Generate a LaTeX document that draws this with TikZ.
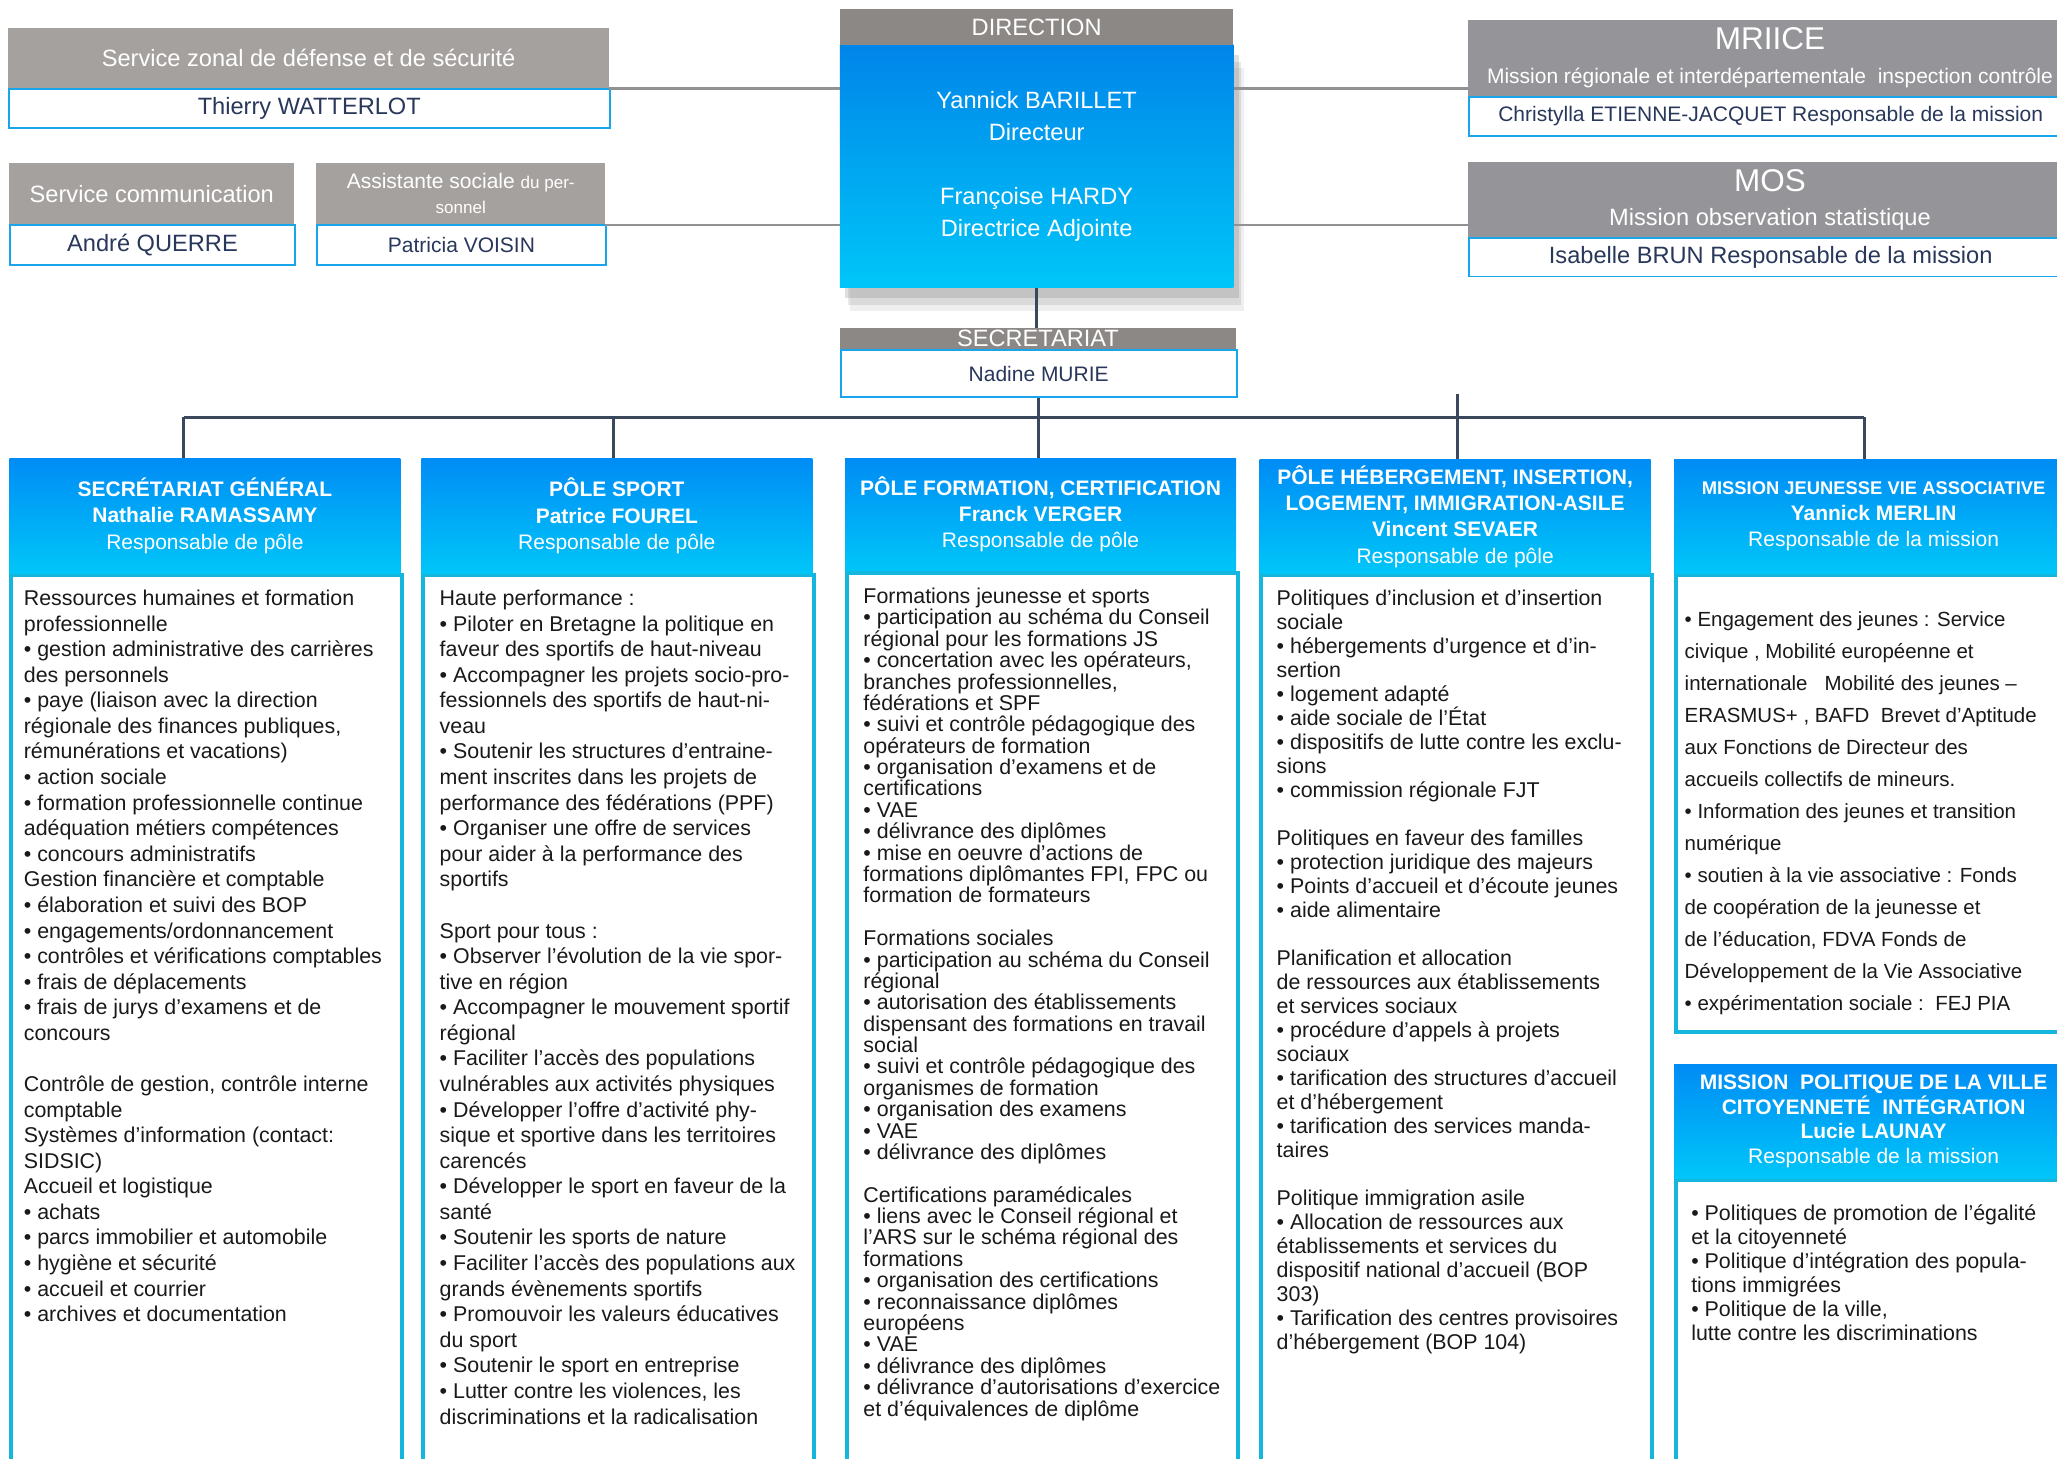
\documentclass[tikz,border=0pt]{standalone}
\usepackage{fontspec}
\setmainfont{Liberation Sans}
\usetikzlibrary{shadows}
\definecolor{headgrey}{RGB}{165,161,159}
\definecolor{dirgrey}{RGB}{140,136,134}
\definecolor{missgrey}{RGB}{149,149,153}
\definecolor{boxblue}{RGB}{25,165,235}
\definecolor{namenavy}{RGB}{40,55,90}
\definecolor{poletop}{RGB}{0,140,245}
\definecolor{polebottom}{RGB}{0,198,248}
\definecolor{polecyan}{RGB}{20,182,222}
\definecolor{linegrey}{RGB}{145,145,145}
\definecolor{busslate}{RGB}{58,72,92}
\tikzset{
  greyhead/.style={
    rectangle,
    fill=headgrey,
    text=white,
    inner sep=0pt,
    anchor=north west,
    align=center,
    font=\fontsize{18}{22}\selectfont},
  namebox/.style={
    rectangle,
    fill=white,
    draw=boxblue, line width=1.5pt,
    text=namenavy,
    inner sep=0pt,
    anchor=north west,
    font=\fontsize{18}{22}\selectfont},
  dirbody/.style={
    rectangle,
    top color=poletop!95!black,
    bottom color=polebottom,
    text=white,
    inner sep=0pt,
    anchor=north west,
    align=center,
    font=\fontsize{18}{24.5}\selectfont,
    drop shadow={shadow xshift=8pt, shadow yshift=-18pt, opacity=0.12},
    drop shadow={shadow xshift=6pt, shadow yshift=-13pt, opacity=0.18},
    drop shadow={shadow xshift=4pt, shadow yshift=-8pt, opacity=0.25}},
  polehead/.style={
    rectangle,
    top color=poletop,
    bottom color=polebottom,
    text=white,
    inner sep=0pt,
    anchor=north west,
    align=center,
    minimum width=298pt,
    font=\fontsize{16}{20}\selectfont},
  polebody/.style={
    rectangle,
    fill=white,
    draw=polecyan, line width=3pt,
    anchor=north west,
    minimum width=298pt},
  poletext/.style={
    anchor=north west,
    align=left,
    inner sep=0pt,
    text=black!90,
    font=\fontsize{16.3}{#1}\selectfont},
  poletext/.default=19.5,
  greyline/.style={draw=linegrey, line width=2pt},
  busline/.style={draw=busslate, line width=2.3pt},
}

\begin{document}
\begin{tikzpicture}[x=1pt, y=-1pt]
\path[use as bounding box, fill=white] (0,0) rectangle (1568,1112);

% direction et secretariat
\node[dirbody, minimum width=300pt, minimum height=185pt] (dirB) at (640,34)
  {Yannick BARILLET\\Directeur\\[24.5pt]Françoise HARDY\\Directrice Adjointe};
\node[greyhead, fill=dirgrey, minimum width=300pt, minimum height=27pt] (dirG) at (640,7) {DIRECTION};
\node[greyhead, fill=dirgrey, minimum width=302pt, minimum height=16pt] (secG) at (640,250) {SECRETARIAT};
\node[namebox, minimum width=302pt, minimum height=36pt, font=\fontsize{16}{19}\selectfont] (secN) at (640,266) {Nadine MURIE};

% services a gauche
\node[greyhead, minimum width=458pt, minimum height=46pt] (szG) at (6,21) {Service zonal de défense et de sécurité};
\node[namebox, minimum width=458pt, minimum height=30pt] (szN) at (6,67) {Thierry WATTERLOT};
\node[greyhead, minimum width=217pt, minimum height=47pt] (comG) at (7,124) {Service communication};
\node[namebox, minimum width=217pt, minimum height=30pt] (comN) at (7,171) {André QUERRE};
\node[greyhead, minimum width=220pt, minimum height=47pt, font=\fontsize{16}{19}\selectfont] (assG) at (241,124)
  {Assistante sociale {\fontsize{13}{19}\selectfont du per-}\\{\fontsize{13}{19}\selectfont sonnel}};
\node[namebox, minimum width=220pt, minimum height=30pt, font=\fontsize{16}{19}\selectfont] (assN) at (241,171) {Patricia VOISIN};

% missions a droite
\node[greyhead, fill=missgrey, minimum width=460pt, minimum height=58pt, font=\fontsize{16}{26}\selectfont] (mriG) at (1119,15)
  {{\fontsize{24}{26}\selectfont MRIICE}\\Mission régionale et interdépartementale\ \ inspection contrôle};
\node[namebox, minimum width=460pt, minimum height=30pt, font=\fontsize{16}{19}\selectfont] (mriN) at (1119,73)
  {Christylla ETIENNE-JACQUET Responsable de la mission};
\node[greyhead, fill=missgrey, minimum width=460pt, minimum height=58pt, font=\fontsize{18}{26}\selectfont] (mosG) at (1119,123)
  {{\fontsize{24}{26}\selectfont MOS}\\Mission observation statistique};
\node[namebox, minimum width=460pt, minimum height=29pt] (mosN) at (1119,181) {Isabelle BRUN Responsable de la mission};

\draw[greyline] (szG.south east) -- (szG.south east -| dirB.west);
\draw[greyline] (assG.south east) -- (assG.south east -| dirB.west);
\draw[greyline] (dirB.east |- szG.south east) -- (mriG.west |- szG.south east);
\draw[greyline] (dirB.east |- assG.south east) -- (mosG.west |- assG.south east);

% poles
\node[polebody, minimum height=700pt] (sgB) at (7,437) {};
\node[polehead, minimum height=88pt] (sgH) at (7,349)
  {\textbf{SECRÉTARIAT GÉNÉRAL}\\\textbf{Nathalie RAMASSAMY}\\Responsable de pôle};
\node[polebody, minimum height=700pt] (spB) at (321,437) {};
\node[polehead, minimum height=88pt] (spH) at (321,349)
  {\textbf{PÔLE SPORT}\\\textbf{Patrice FOUREL}\\Responsable de pôle};
\node[polebody, minimum height=700pt] (formB) at (644,435) {};
\node[polehead, minimum height=86pt] (formH) at (644,349)
  {\textbf{PÔLE FORMATION, CERTIFICATION}\\\textbf{Franck VERGER}\\Responsable de pôle};
\node[polebody, minimum height=700pt] (hebB) at (960,437) {};
\node[polehead, minimum height=87pt] (hebH) at (960,350)
  {\textbf{PÔLE HÉBERGEMENT, INSERTION,}\\\textbf{LOGEMENT, IMMIGRATION-ASILE}\\\textbf{Vincent SEVAER}\\Responsable de pôle};
\node[polebody, minimum width=304pt, minimum height=348pt] (mjB) at (1276,437) {};
\node[polehead, minimum width=304pt, minimum height=87pt] (mjH) at (1276,350)
  {{\fontsize{14}{20}\selectfont\bfseries MISSION JEUNESSE VIE ASSOCIATIVE}\\\textbf{Yannick MERLIN}\\Responsable de la mission};
\node[polebody, minimum width=304pt, minimum height=250pt] (mpB) at (1276,898) {};
\node[polehead, minimum width=304pt, minimum height=87pt, font=\fontsize{16}{18.7}\selectfont] (mpH) at (1276,811)
  {\textbf{MISSION\ \ POLITIQUE DE LA VILLE}\\\textbf{CITOYENNETÉ\ \ INTÉGRATION}\\\textbf{Lucie LAUNAY}\\Responsable de la mission};

\node[poletext] (sgT) at (18,449.5)
  {Ressources humaines et formation\\professionnelle\\• gestion administrative des carrières\\des personnels\\%
   • paye (liaison avec la direction\\régionale des finances publiques,\\rémunérations et vacations)\\• action sociale\\%
   • formation professionnelle continue\\adéquation métiers compétences\\• concours administratifs\\%
   Gestion financière et comptable\\• élaboration et suivi des BOP\\• engagements/ordonnancement\\%
   • contrôles et vérifications comptables\\• frais de déplacements\\• frais de jurys d’examens et de\\concours\\[19.5pt]%
   Contrôle de gestion, contrôle interne\\comptable\\Systèmes d’information (contact:\\SIDSIC)\\%
   Accueil et logistique\\• achats\\• parcs immobilier et automobile\\• hygiène et sécurité\\• accueil et courrier\\%
   • archives et documentation};
\node[poletext] (spT) at (335,449.5)
  {Haute performance :\\• Piloter en Bretagne la politique en\\faveur des sportifs de haut-niveau\\%
   • Accompagner les projets socio-pro-\\fessionnels des sportifs de haut-ni-\\veau\\%
   • Soutenir les structures d’entraine-\\ment inscrites dans les projets de\\performance des fédérations (PPF)\\%
   • Organiser une offre de services\\pour aider à la performance des\\sportifs\\[19.5pt]%
   Sport pour tous :\\• Observer l’évolution de la vie spor-\\tive en région\\%
   • Accompagner le mouvement sportif\\régional\\• Faciliter l’accès des populations\\vulnérables aux activités physiques\\%
   • Développer l’offre d’activité phy-\\sique et sportive dans les territoires\\carencés\\%
   • Développer le sport en faveur de la\\santé\\• Soutenir les sports de nature\\%
   • Faciliter l’accès des populations aux\\grands évènements sportifs\\• Promouvoir les valeurs éducatives\\du sport\\%
   • Soutenir le sport en entreprise\\• Lutter contre les violences, les\\discriminations et la radicalisation};
\node[poletext=16.3] (formT) at (658,448)
  {Formations jeunesse et sports\\• participation au schéma du Conseil\\régional pour les formations JS\\%
   • concertation avec les opérateurs,\\branches professionnelles,\\fédérations et SPF\\%
   • suivi et contrôle pédagogique des\\opérateurs de formation\\• organisation d’examens et de\\certifications\\%
   • VAE\\• délivrance des diplômes\\• mise en oeuvre d’actions de\\formations diplômantes FPI, FPC ou\\formation de formateurs\\[16.3pt]%
   Formations sociales\\• participation au schéma du Conseil\\régional\\• autorisation des établissements\\%
   dispensant des formations en travail\\social\\• suivi et contrôle pédagogique des\\organismes de formation\\%
   • organisation des examens\\• VAE\\• délivrance des diplômes\\[16.3pt]%
   Certifications paramédicales\\• liens avec le Conseil régional et\\l’ARS sur le schéma régional des\\formations\\%
   • organisation des certifications\\• reconnaissance diplômes\\européens\\• VAE\\• délivrance des diplômes\\%
   • délivrance d’autorisations d’exercice\\et d’équivalences de diplôme};
\node[poletext=18.3] (hebT) at (973,449.5)
  {Politiques d’inclusion et d’insertion\\sociale\\• hébergements d’urgence et d’in-\\sertion\\• logement adapté\\%
   • aide sociale de l’État\\• dispositifs de lutte contre les exclu-\\sions\\• commission régionale FJT\\[18.3pt]%
   Politiques en faveur des familles\\• protection juridique des majeurs\\• Points d’accueil et d’écoute jeunes\\%
   • aide alimentaire\\[18.3pt]%
   Planification et allocation\\de ressources aux établissements\\et services sociaux\\• procédure d’appels à projets\\sociaux\\%
   • tarification des structures d’accueil\\et d’hébergement\\• tarification des services manda-\\taires\\[18.3pt]%
   Politique immigration asile\\• Allocation de ressources aux\\établissements et services du\\%
   dispositif national d’accueil (BOP\\303)\\• Tarification des centres provisoires\\d’hébergement (BOP 104)};
\node[poletext=24.4, font=\fontsize{15.6}{24.4}\selectfont] (mjT) at (1284,466)
  {• Engagement des jeunes : Service\\civique , Mobilité européenne et\\internationale\ \ \ Mobilité des jeunes –\\%
   ERASMUS+ , BAFD\ \ Brevet d’Aptitude\\aux Fonctions de Directeur des\\accueils collectifs de mineurs.\\%
   • Information des jeunes et transition\\numérique\\• soutien à la vie associative : Fonds\\%
   de coopération de la jeunesse et\\de l’éducation, FDVA Fonds de\\Développement de la Vie Associative\\%
   • expérimentation sociale :\ \ FEJ PIA};
\node[poletext=18.2] (mpT) at (1289,918.5)
  {• Politiques de promotion de l’égalité\\et la citoyenneté\\• Politique d’intégration des popula-\\%
   tions immigrées\\• Politique de la ville,\\lutte contre les discriminations};

% liaisons
\coordinate (busW) at (140,318);
\coordinate (busE) at (1421,318);
\coordinate (busSp) at (468,318);
\coordinate (busHeb) at (1111,300);
\draw[busline] (dirB.south) -- (dirB.south |- secG.north);
\draw[busline] (secN.south) -- (secN.south |- formH.north);
\draw[busline] (busW) -- (busE);
\draw[busline] (busW) -- (busW |- sgH.north);
\draw[busline] (busSp) -- (busSp |- spH.north);
\draw[busline] (busHeb) -- (busHeb |- hebH.north);
\draw[busline] (busE) -- (busE |- mjH.north);
\end{tikzpicture}
\end{document}
